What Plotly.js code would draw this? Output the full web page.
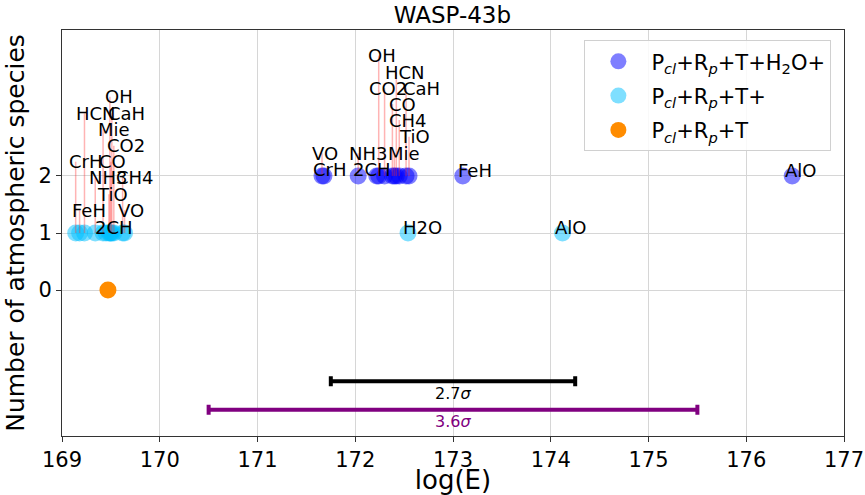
<!DOCTYPE html>
<html>
<head>
<meta charset="utf-8">
<script src="https://cdn.plot.ly/plotly-3.0.1.min.js"></script>
<style>
  html, body { margin: 0; padding: 0; background: #fff; }
  #chart { width: 865px; height: 495px; }
</style>
</head>
<body>
<div id="chart"></div>
<script>
// Species added on top of the base model, and log-evidence of each run
const speciesFull = ['FeH', 'CrH', 'HCN', 'Mie', 'OH', 'CaH', 'CO2', 'CO', 'NH3', 'TiO', 'CH4', 'VO', '2CH', 'AlO'];
const logE_full = [173.10, 171.68, 172.42, 172.40, 172.24, 172.52, 172.30, 172.38, 172.03, 172.55, 172.45, 171.66, 172.22, 176.47];
const nSpeciesFull = 2;

const speciesPlus = ['FeH', 'CrH', 'HCN', 'Mie', 'OH', 'CaH', 'CO2', 'CO', 'NH3', 'TiO', 'CH4', 'VO', '2CH', 'AlO', 'H2O'];
const logE_plus = [169.18, 169.14, 169.23, 169.42, 169.49, 169.51, 169.53, 169.50, 169.34, 169.48, 169.62, 169.64, 169.45, 174.12, 172.54];
const nSpeciesPlus = 1;

const logE_base = [169.47];
const nSpeciesBase = 0;

// Significance bars
const sigmaCenter = 173.0;
const sigmaHalfWidth = [1.25, 2.5];
const sigmaText = ['2.7<i>σ</i>', '3.6<i>σ</i>'];

// Label placement (text centres, data units) so that labels do not pile up
const labelPosFull = {
  FeH: [173.23, 2.09], CrH: [171.745, 2.12], HCN: [172.51, 3.82], Mie: [172.50, 2.40],
  OH: [172.27, 4.11], CaH: [172.68, 3.54], CO2: [172.34, 3.54], CO: [172.48, 3.26],
  NH3: [172.13, 2.40], TiO: [172.61, 2.69], CH4: [172.54, 2.98], VO: [171.69, 2.40],
  '2CH': [172.17, 2.12], AlO: [176.55, 2.09]
};
const labelPosPlus = {
  FeH: [169.28, 1.40], CrH: [169.25, 2.25], HCN: [169.35, 3.10], Mie: [169.53, 2.82],
  OH: [169.58, 3.39], CaH: [169.66, 3.10], CO2: [169.65, 2.53], CO: [169.52, 2.25],
  NH3: [169.47, 1.97], TiO: [169.52, 1.68], CH4: [169.75, 1.97], VO: [169.71, 1.40],
  '2CH': [169.53, 1.09], AlO: [174.20, 1.10], H2O: [172.69, 1.09]
};

const FONT = 'DejaVu Sans, sans-serif';
const sigmaY = [-1.6, -2.1];
const sigmaTextY = [-1.81, -2.31];
const sigmaColor = ['black', 'purple'];

const traces = [
  {
    x: logE_full, y: logE_full.map(() => nSpeciesFull),
    mode: 'markers', type: 'scatter',
    name: 'P<sub><i>cl</i></sub>+R<sub><i>p</i></sub>+T+H<sub>2</sub>O+',
    legendgroup: 'a',
    marker: { size: 17, color: 'rgba(0,0,255,0.5)', line: { width: 0 } }
  },
  {
    x: logE_plus, y: logE_plus.map(() => nSpeciesPlus),
    mode: 'markers', type: 'scatter',
    name: 'P<sub><i>cl</i></sub>+R<sub><i>p</i></sub>+T+',
    legendgroup: 'b',
    marker: { size: 17, color: 'rgba(0,191,255,0.5)', line: { width: 0 } }
  },
  {
    x: logE_base, y: logE_base.map(() => nSpeciesBase),
    mode: 'markers', type: 'scatter',
    name: 'P<sub><i>cl</i></sub>+R<sub><i>p</i></sub>+T',
    legendgroup: 'c',
    marker: { size: 17, color: 'darkorange', line: { width: 0 } }
  }
];

sigmaHalfWidth.forEach((hw, i) => {
  traces.push({
    x: [sigmaCenter], y: [sigmaY[i]],
    mode: 'markers', type: 'scatter', showlegend: false,
    marker: { size: 1, opacity: 0 },
    error_x: { type: 'data', symmetric: true, array: [hw], color: sigmaColor[i], thickness: 4, width: 5 }
  });
});

// Species labels with thin red leader lines rising from each point
const annotations = [];
const shapes = [];
function addLabels(names, xs, y, pos) {
  names.forEach((n, i) => {
    const p = pos[n];
    if (p[1] - y > 0.2) {
      shapes.push({
        type: 'line', xref: 'x', yref: 'y', layer: 'above',
        x0: xs[i], x1: xs[i], y0: y, y1: p[1],
        line: { color: 'rgba(255,40,40,0.35)', width: 1.5 }
      });
    }
    annotations.push({
      x: p[0], y: p[1], xref: 'x', yref: 'y',
      text: n, showarrow: false,
      font: { family: FONT, size: 18, color: 'black' }
    });
  });
}
addLabels(speciesFull, logE_full, nSpeciesFull, labelPosFull);
addLabels(speciesPlus, logE_plus, nSpeciesPlus, labelPosPlus);

sigmaText.forEach((t, i) => {
  annotations.push({
    x: sigmaCenter, y: sigmaTextY[i], xref: 'x', yref: 'y',
    text: t, showarrow: false,
    font: { family: FONT, size: 16, color: sigmaColor[i] }
  });
});

const layout = {
  width: 865, height: 495,
  margin: { l: 61.5, r: 21, t: 30, b: 59 },
  paper_bgcolor: 'white', plot_bgcolor: 'white',
  font: { family: FONT, color: 'black' },
  title: { text: 'WASP-43b', font: { family: FONT, size: 23, color: 'black' }, x: 0.523, xanchor: 'center', y: 0.97, yanchor: 'middle' },
  xaxis: {
    range: [169, 177], dtick: 1, tick0: 169,
    title: { text: 'log(E)', font: { family: FONT, size: 26 }, standoff: 4 },
    tickfont: { family: FONT, size: 21 },
    showgrid: true, gridcolor: '#d6d6d6', gridwidth: 1,
    zeroline: false, showline: true, linecolor: '#333', linewidth: 1, mirror: true,
    ticks: 'outside', ticklen: 5, tickcolor: '#333'
  },
  yaxis: {
    range: [-2.56, 4.56], tickvals: [0, 1, 2],
    title: { text: 'Number of atmospheric species', font: { family: FONT, size: 25 }, standoff: 6 },
    tickfont: { family: FONT, size: 21 },
    showgrid: true, gridcolor: '#d6d6d6', gridwidth: 1,
    zeroline: false, showline: true, linecolor: '#333', linewidth: 1, mirror: true,
    ticks: 'outside', ticklen: 5, tickcolor: '#333'
  },
  legend: {
    x: 0.668, y: 0.975, xanchor: 'left', yanchor: 'top',
    bgcolor: 'rgba(255,255,255,0.85)', bordercolor: '#d0d0d0', borderwidth: 1,
    font: { family: FONT, size: 21, color: 'black' },
    itemwidth: 56,
    tracegroupgap: 4
  },
  annotations: annotations,
  shapes: shapes,
  showlegend: true
};

Plotly.newPlot('chart', traces, layout, { staticPlot: true, displayModeBar: false });
</script>
</body>
</html>
